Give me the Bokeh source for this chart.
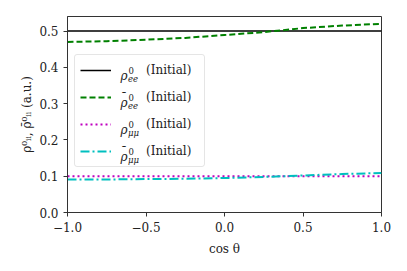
from bokeh.plotting import figure
from bokeh.models import Range1d, FixedTicker, Legend, LegendItem, Label
from bokeh.embed import file_html
from bokeh.resources import INLINE

# ---- data ----
cos_theta = [-1.0, -0.75, -0.5, -0.25, 0.0, 0.25, 0.5, 0.75, 1.0]
rho_ee = [0.5, 0.5, 0.5, 0.5, 0.5, 0.5, 0.5, 0.5, 0.5]
rhobar_ee = [0.470, 0.472, 0.476, 0.481, 0.489, 0.497, 0.508, 0.515, 0.520]
rho_mumu = [0.1, 0.1, 0.1, 0.1, 0.1, 0.1, 0.1, 0.1, 0.1]
rhobar_mumu = [0.091, 0.091, 0.092, 0.093, 0.095, 0.098, 0.102, 0.106, 0.109]

x_ticks = [-1.0, -0.5, 0.0, 0.5, 1.0]
x_tick_labels = ["\u22121.0", "\u22120.5", "0.0", "0.5", "1.0"]
y_ticks = [0.0, 0.1, 0.2, 0.3, 0.4, 0.5]
y_tick_labels = ["0.0", "0.1", "0.2", "0.3", "0.4", "0.5"]

legend_sub = ["ee", "ee", "\u03bc\u03bc", "\u03bc\u03bc"]
legend_bar = [False, True, False, True]
legend_suffix = "(Initial)"

FONT = "DejaVu Serif"

p = figure(width=399, height=263, output_backend="svg", toolbar_location=None,
           x_range=Range1d(-1.0, 1.0), y_range=Range1d(0.0, 0.54),
           min_border_left=67, min_border_right=18, min_border_top=16,
           min_border_bottom=51)
p.background_fill_color = "white"
p.border_fill_color = "white"
p.outline_line_color = "#333333"
p.outline_line_width = 1
p.grid.visible = False

p.xaxis.ticker = FixedTicker(ticks=x_ticks)
p.yaxis.ticker = FixedTicker(ticks=y_ticks)
p.xaxis.major_label_overrides = dict(zip(x_ticks, x_tick_labels))
p.yaxis.major_label_overrides = dict(zip(y_ticks, y_tick_labels))
for ax in (p.xaxis, p.yaxis):
    ax.axis_line_color = "#333333"
    ax.major_tick_line_color = "#333333"
    ax.major_tick_in = 0
    ax.major_tick_out = 4
    ax.minor_tick_line_color = None
    ax.major_label_text_font = FONT
    ax.major_label_text_font_size = "12px"
    ax.major_label_text_color = "#222222"
    ax.axis_label_text_font = FONT
    ax.axis_label_text_font_size = "12px"
    ax.axis_label_text_font_style = "normal"
    ax.axis_label_text_color = "#222222"
    ax.major_label_standoff = 5
p.xaxis.axis_label = "cos \u03b8"
p.yaxis.axis_label = "\u03c1\u2070\u1d62\u1d62, \u03c1\u0304\u2070\u1d62\u1d62 (a.u.)"
p.xaxis.axis_label_standoff = 7
p.yaxis.axis_label_standoff = 2

r1 = p.line(cos_theta, rho_ee, line_color="black", line_width=1.5)
r2 = p.line(cos_theta, rhobar_ee, line_color="green", line_width=2, line_dash="6 3")
r3 = p.line(cos_theta, rho_mumu, line_color="#bf00bf", line_width=2, line_dash="2 3")
r4 = p.line(cos_theta, rhobar_mumu, line_color="#00bfbf", line_width=2,
            line_dash="9 3 2 3")

pad, gh, gsp = 5, 20, 7
legend = Legend(items=[LegendItem(label=legend_suffix, renderers=[r]) for r in (r1, r2, r3, r4)],
                location=(7, 45), padding=pad, glyph_width=31, glyph_height=gh,
                spacing=gsp, label_standoff=35, label_width=53, label_height=gh,
                margin=0, border_line_color="#cccccc", border_line_width=1,
                background_fill_color="white", background_fill_alpha=0.0,
                label_text_font=FONT, label_text_font_size="12px",
                label_text_color="#222222")
if "border_radius" in Legend.properties():
    legend.border_radius = 3
p.add_layout(legend, "center")

# math parts of legend labels (rho, superscript, subscript, bar), in pixels
frame_left, frame_bottom = 67, 212
n = len(legend_sub)
legend_height = 2 * pad + n * gh + (n - 1) * gsp
legend_top = frame_bottom - 45 - legend_height
for k in range(n):
    cy = legend_top + pad + gh / 2 + k * (gh + gsp)
    def lab(text, px, py, size, style="normal"):
        p.add_layout(Label(x=-1.0, y=0.0, x_offset=px - frame_left,
                           y_offset=frame_bottom - py, text=text,
                           text_font=FONT, text_font_size=size,
                           text_font_style=style, text_color="#222222",
                           text_align="left", text_baseline="alphabetic"))
    lab("\u03c1", 120, cy + 4, "12px", "italic")
    if legend_bar[k]:
        lab("\u00af", 120.5, cy - 0.5, "12px")
    lab("0", 128, cy - 1, "8.5px")
    lab(legend_sub[k], 127.5, cy + 7, "8.5px", "italic")

open("out.html", "w").write(file_html(p, INLINE))
